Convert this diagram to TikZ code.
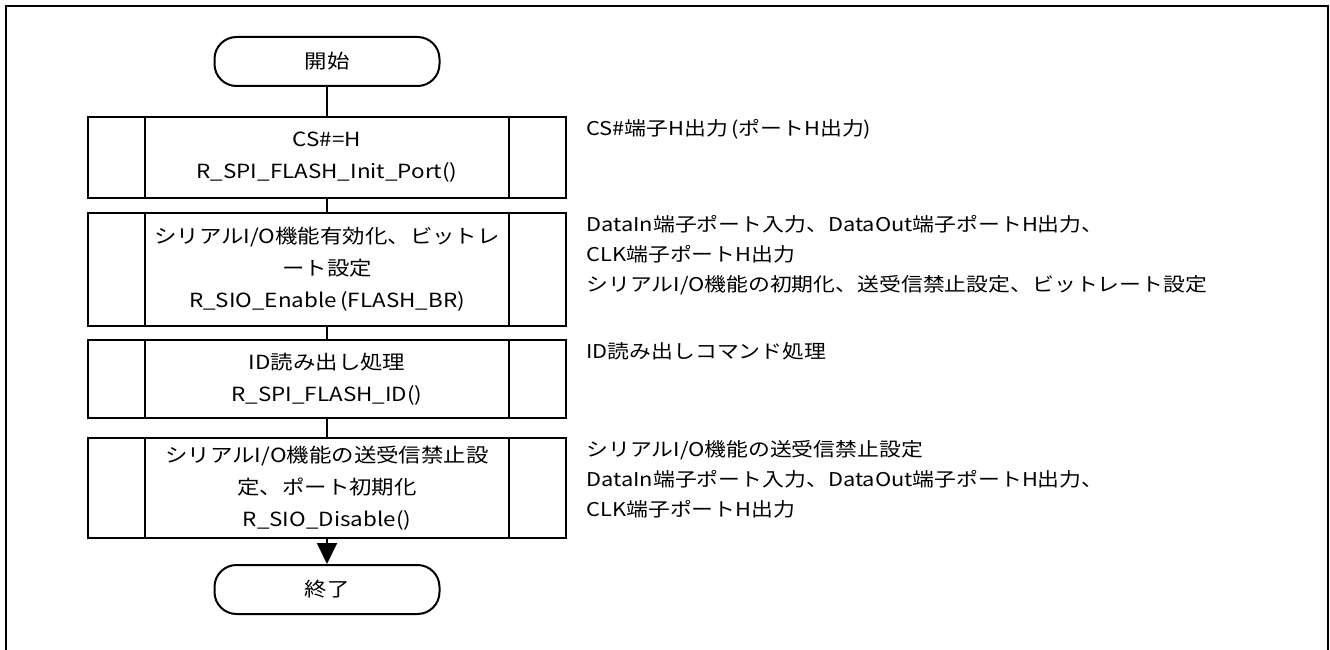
\documentclass[tikz,border=0pt]{standalone}
\usepackage{fontspec}
\setmainfont[FakeStretch=1.15]{Noto Sans CJK JP}
\usetikzlibrary{positioning,arrows.meta}
\tikzset{
    terminal-box/.style = {draw, line width=2pt, rectangle, rounded corners=22pt, minimum width=225pt, minimum height=49pt, font=\fontsize{19.5}{32}\selectfont},
    process-box/.style = {draw, line width=2pt, rectangle, minimum width=478.5pt, inner ysep=1pt, align=center, font=\fontsize{19.5}{32}\selectfont},
    note-text/.style = {anchor=north west, inner sep=0pt, align=left, font=\fontsize{19}{30}\selectfont},
}

\begin{document}
\begin{tikzpicture}[x=1pt, y=-1pt]
\useasboundingbox (0,0) rectangle (1330,650);
\draw[line width=2pt] (6,650) -- (6,6) -- (1328,6) -- (1328,650);

\node[terminal-box] (start) at (327,61.5) {開始};
\node[process-box, minimum height=81pt] (initport) at (327,157.5) {CS\#=H\\R\_SPI\_FLASH\_Init\_Port()};
\node[process-box, minimum height=113pt] (sioen) at (327,269.5) {シリアルI/O機能有効化、ビットレ\\ート設定\\R\_SIO\_Enable\,(FLASH\_BR)};
\node[process-box, minimum height=78pt] (readid) at (327,379) {ID読み出し処理\\R\_SPI\_FLASH\_ID()};
\node[process-box, minimum height=100pt] (siodis) at (327,488) {シリアルI/O機能の送受信禁止設\\定、ポート初期化\\R\_SIO\_Disable()};
\node[terminal-box] (stop) at (327,589.5) {終了};

% side bars of the predefined process boxes
\foreach \b in {initport,sioen,readid,siodis}
    \draw[line width=2pt] ([xshift=58.5pt]\b.north west) -- ([xshift=58.5pt]\b.south west)
        ([xshift=-58pt]\b.north east) -- ([xshift=-58pt]\b.south east);

\draw[line width=2pt] (start) -- (initport);
\draw[line width=2pt] (initport) -- (sioen);
\draw[line width=2pt] (sioen) -- (readid);
\draw[line width=2pt] (readid) -- (siodis);
\draw[line width=2pt, -{Triangle[length=21pt,width=20pt]}] (siodis) -- (stop);

% notes on the right
\node[note-text] (initnote) at ([xshift=19pt,yshift=-3pt]initport.north east) {CS\#端子H出力\,(ポートH出力)};
\node[note-text] (sioennote) at ([xshift=19pt,yshift=-3pt]sioen.north east) {DataIn端子ポート入力、DataOut端子ポートH出力、\\CLK端子ポートH出力\\シリアルI/O機能の初期化、送受信禁止設定、ビットレート設定};
\node[note-text] (readidnote) at ([xshift=19pt,yshift=-3pt]readid.north east) {ID読み出しコマンド処理};
\node[note-text] (siodisnote) at ([xshift=19pt,yshift=-3pt]siodis.north east) {シリアルI/O機能の送受信禁止設定\\DataIn端子ポート入力、DataOut端子ポートH出力、\\CLK端子ポートH出力};
\end{tikzpicture}
\end{document}
